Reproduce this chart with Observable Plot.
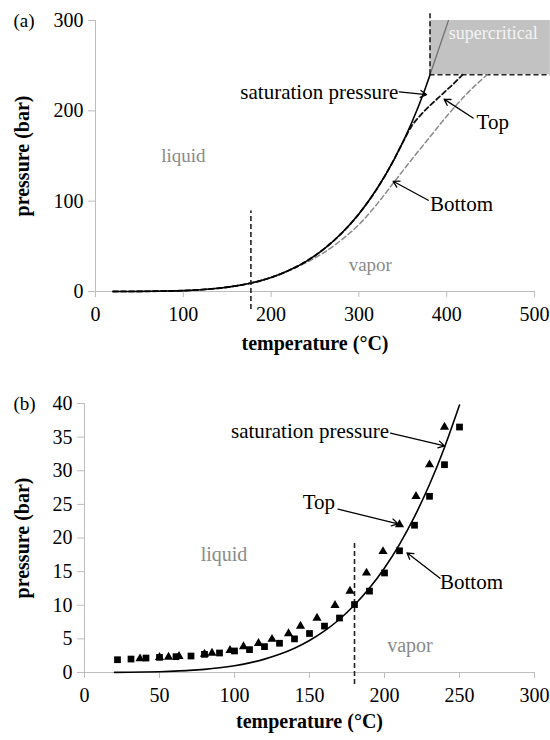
<!DOCTYPE html>
<html><head><meta charset="utf-8">
<script src="https://cdn.jsdelivr.net/npm/d3@7"></script>
<script src="https://cdn.jsdelivr.net/npm/@observablehq/plot@0.6"></script>
<style>
body{margin:0;background:#fff;}
#wrap{position:relative;width:550px;height:740px;background:#fff;}
#wrap svg{position:absolute;left:0;font-family:"Liberation Serif","Times New Roman",serif !important;}
#wrap svg text{font-family:"Liberation Serif","Times New Roman",serif !important;}
</style></head>
<body><div id="wrap"></div>
<script>
// ---------- Panel (a) data ----------
const satT = [20,40,60,80,100,120,140,160,180,200,220,240,260,280,300,320,340,360,374,381];
const satP = [0.02,0.07,0.2,0.47,1.0,2.0,3.6,6.2,10.0,15.5,23.2,33.4,46.9,64.2,85.9,112.9,146.0,186.5,220.6,240];
const topT = [20,40,60,80,100,120,140,160,180,200,220,240,260,280,300,320,340,350,360,370,380,390,400,410,418];
const topP = [0.02,0.07,0.2,0.47,1.0,2.0,3.6,6.2,10.0,15.5,23.2,33.4,46.9,64.2,85.9,112.9,146.0,165,183,195,205,214,223,232,240];
const botT = [20,40,60,80,100,120,140,160,180,200,220,240,260,280,300,320,340,360,380,400,420,446];
const botP = [0.02,0.07,0.2,0.47,1.0,2.0,3.6,6.2,10.0,15.5,23.2,32,43,57,74,96,121,146,170,194,216,240];
const superT = [381,402];
const superP = [240,300];
const critT = 381, critP = 240, boxTop = 300, boxRight = 518;
const splitT_a = 177, splitTop_a = 89, splitBot_a = -20;
const xTicksA = [0,100,200,300,400,500];
const yTicksA = [0,100,200,300];

// ---------- Panel (b) data ----------
const satT_b = [20,30,40,50,60,70,80,90,100,110,120,130,140,150,160,170,180,190,200,210,220,230,240,250];
const satP_b = [0.023,0.042,0.074,0.12,0.2,0.31,0.47,0.70,1.01,1.43,1.99,2.7,3.61,4.76,6.18,7.92,10.03,12.55,15.54,19.06,23.18,27.95,33.47,39.76];
const sqT = [22,31,41,50,61,71,80,90,100,110,120,130,140,150,160,170,180,190,200,210,220,230,240,250];
const sqP = [1.9,2.0,2.15,2.25,2.35,2.45,2.7,2.9,3.2,3.4,3.85,4.35,5.0,5.8,6.9,8.1,10.1,12.1,14.8,18.1,21.9,26.2,30.9,36.5];
const triT = [37,50,56,63,80,85,97,106,116,125,136,144,155,167,177,188,199,210,221,230,240];
const triP = [2.05,2.25,2.3,2.4,2.75,2.9,3.3,3.85,4.35,4.95,5.8,6.9,8.1,10.0,12.1,14.8,18.0,22.0,26.2,30.9,36.5];
const splitT_b = 180, splitTop_b = 19.2, splitBot_b = -1.8;
const xTicksB = [0,50,100,150,200,250,300];
const yTicksB = [0,5,10,15,20,25,30,35,40];

// annotations
const labelsA = [
  {text:"saturation pressure", T:345, P:221, anchor:"end"},
  {text:"Top", T:434, P:187, anchor:"start"},
  {text:"Bottom", T:381, P:97, anchor:"start"}
];
const arrowsA = [
  {T1:346, P1:221, T2:377, P2:218},
  {T1:430, P1:192, T2:397, P2:213},
  {T1:379, P1:101, T2:339, P2:122}
];
const regionsA = [
  {text:"liquid", T:100, P:150},
  {text:"vapor", T:313, P:29}
];
const labelsB = [
  {text:"saturation pressure", T:203, P:35.8, anchor:"end"},
  {text:"Top", T:167, P:25.3, anchor:"end"},
  {text:"Bottom", T:237, P:13.4, anchor:"start"}
];
const arrowsB = [
  {T1:204, P1:35.6, T2:240, P2:33.7},
  {T1:169, P1:24.3, T2:209, P2:22.1},
  {T1:237, P1:14.0, T2:215, P2:17.8}
];
const regionsB = [
  {text:"liquid", T:93, P:17.5},
  {text:"vapor", T:217, P:4.0}
];

const zip = (xs, ys) => xs.map((x,i)=>({T:x, P:ys[i]}));
const FONT = "'Liberation Serif', 'Times New Roman', serif";
const AXIS = "#bdbdbd";

function axes(xt, yt) {
  return [
    Plot.ruleY([0], {stroke: AXIS}),
    Plot.ruleX([0], {stroke: AXIS}),
    Plot.axisX({ticks: xt, tickSize: 6, tickPadding: 9, stroke: AXIS, fill: "black", label: null, fontSize: 20}),
    Plot.axisY({ticks: yt, tickSize: 7, tickPadding: 5, stroke: AXIS, fill: "black", label: null, fontSize: 20})
  ];
}
function titles(tag, xdy, ydx, tagdx) {
  return [
    Plot.text(["temperature (°C)"], {frameAnchor: "bottom", dy: xdy, fontWeight: "bold", fontSize: 20, fill: "black"}),
    Plot.text(["pressure (bar)"], {frameAnchor: "left", dx: ydx, rotate: -90, textAnchor: "middle", fontWeight: "bold", fontSize: 20, fill: "black"}),
    Plot.text([tag], {frameAnchor: "top-left", dx: tagdx, lineAnchor: "middle", fontSize: 19, fill: "black"})
  ];
}

const plotA = Plot.plot({
  width: 550, height: 370,
  marginTop: 20, marginBottom: 79, marginLeft: 95, marginRight: 16,
  x: {domain: [0, 500], axis: null},
  y: {domain: [0, 300], axis: null},
  style: {fontFamily: FONT, fontSize: "20px", background: "white", color: "black"},
  marks: [
    Plot.rect([{x1: critT, x2: boxRight, y1: critP, y2: boxTop}], {x1: "x1", x2: "x2", y1: "y1", y2: "y2", fill: "#c2c2c2"}),
    Plot.text(["supercritical"], {x: () => 453, y: () => 286, fill: "#f4f4f4", fontSize: 18}),
    ...axes(xTicksA, yTicksA),
    Plot.line(zip(superT, superP), {x: "T", y: "P", stroke: "#6e6e6e", strokeWidth: 1.2}),
    Plot.ruleX([critT], {y1: critP, y2: 310, stroke: "#222", strokeWidth: 1.6, strokeDasharray: "5,3"}),
    Plot.ruleY([critP], {x1: critT, x2: boxRight, stroke: "#222", strokeWidth: 1.6, strokeDasharray: "5,3"}),
    Plot.line(zip(botT, botP), {x: "T", y: "P", stroke: "#8a8a8a", strokeWidth: 1.5, strokeDasharray: "5,3", curve: "monotone-x"}),
    Plot.line(zip(topT, topP), {x: "T", y: "P", stroke: "#111", strokeWidth: 1.8, strokeDasharray: "5,3", curve: "monotone-x"}),
    Plot.line(zip(satT, satP), {x: "T", y: "P", stroke: "#000", strokeWidth: 1.6, curve: "monotone-x"}),
    Plot.ruleX([splitT_a], {y1: splitBot_a, y2: splitTop_a, stroke: "#222", strokeWidth: 1.6, strokeDasharray: "5,3"}),
    Plot.text(regionsA, {x: "T", y: "P", text: "text", fill: "#8a8a8a", fontSize: 19}),
    Plot.text(labelsA, {x: "T", y: "P", text: "text", textAnchor: "end", filter: d => d.anchor === "end", fill: "black", fontSize: 21}),
    Plot.text(labelsA, {x: "T", y: "P", text: "text", textAnchor: "start", filter: d => d.anchor === "start", fill: "black", fontSize: 21}),
    Plot.arrow(arrowsA, {x1: "T1", y1: "P1", x2: "T2", y2: "P2", stroke: "black", strokeWidth: 1.3, headLength: 8}),
    ...titles("(a)", 58, -73, -82)
  ]
});

const plotB = Plot.plot({
  width: 550, height: 370,
  marginTop: 33, marginBottom: 68, marginLeft: 84, marginRight: 16,
  x: {domain: [0, 300], axis: null},
  y: {domain: [0, 40], axis: null},
  style: {fontFamily: FONT, fontSize: "20px", background: "white", color: "black"},
  marks: [
    ...axes(xTicksB, yTicksB),
    Plot.line(zip(satT_b, satP_b), {x: "T", y: "P", stroke: "#000", strokeWidth: 1.6, curve: "monotone-x"}),
    Plot.ruleX([splitT_b], {y1: splitBot_b, y2: splitTop_b, stroke: "#222", strokeWidth: 1.6, strokeDasharray: "5,3"}),
    Plot.dot(zip(triT, triP), {x: "T", y: "P", symbol: "triangle", r: 3.4, fill: "black", stroke: "none"}),
    Plot.dot(zip(sqT, sqP), {x: "T", y: "P", symbol: "square", r: 3.8, fill: "black", stroke: "none"}),
    Plot.text(regionsB, {x: "T", y: "P", text: "text", fill: "#8a8a8a", fontSize: 20}),
    Plot.text(labelsB, {x: "T", y: "P", text: "text", textAnchor: "end", filter: d => d.anchor === "end", fill: "black", fontSize: 21}),
    Plot.text(labelsB, {x: "T", y: "P", text: "text", textAnchor: "start", filter: d => d.anchor === "start", fill: "black", fontSize: 21}),
    Plot.arrow(arrowsB, {x1: "T1", y1: "P1", x2: "T2", y2: "P2", stroke: "black", strokeWidth: 1.3, headLength: 8}),
    ...titles("(b)", 55, -62, -71)
  ]
});

plotA.style.top = "0px";
plotB.style.top = "370px";
document.getElementById("wrap").append(plotA, plotB);
</script>
</body></html>
